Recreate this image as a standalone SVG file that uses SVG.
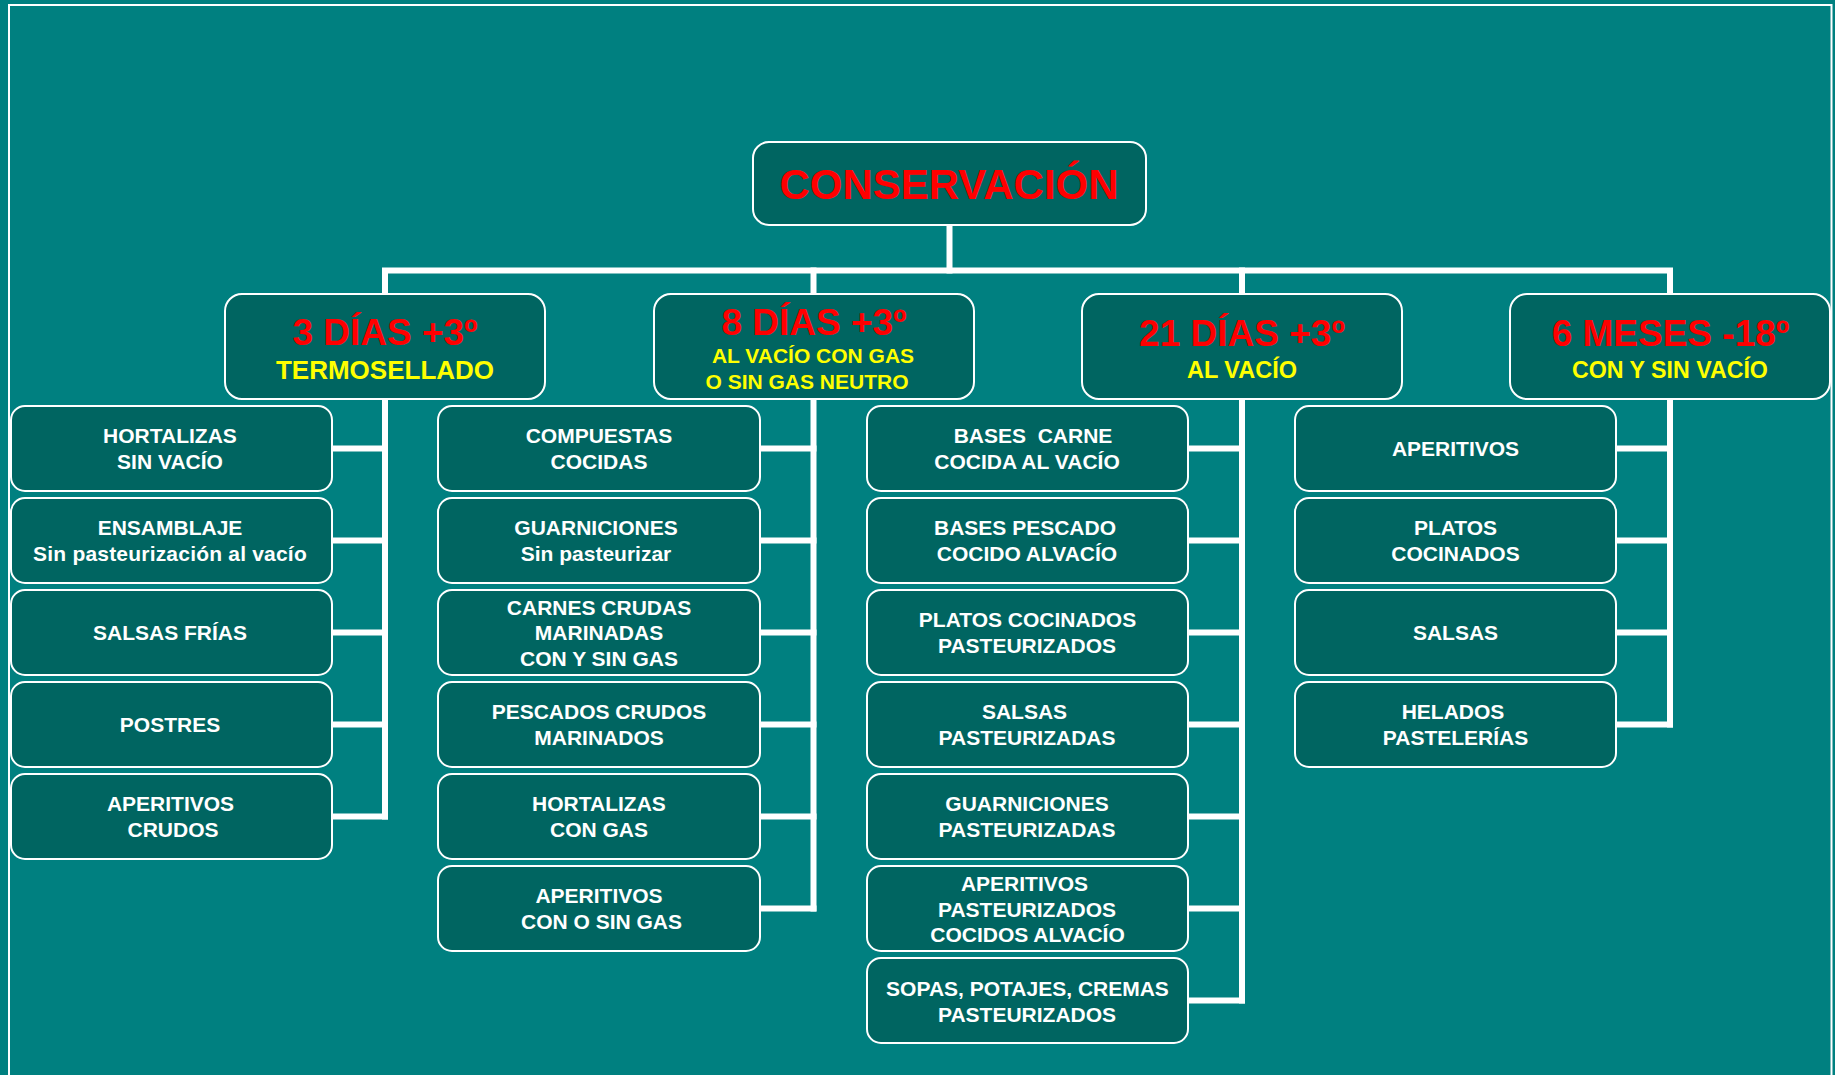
<svg xmlns="http://www.w3.org/2000/svg" width="1835" height="1075" viewBox="0 0 1835 1075">
<style>
.bg{fill:#008080}
.frame{fill:none;stroke:#ffffff;stroke-width:2}
.box{fill:#006561;stroke:#ffffff;stroke-width:2}
.conn{fill:none;stroke:#ffffff;stroke-width:6;stroke-linecap:square;stroke-linejoin:miter}
text{font-family:"Liberation Sans",Arial,sans-serif;font-weight:bold;text-anchor:middle}
.root{fill:#ff0000;font-size:42px}
.hd{fill:#ff0000;font-size:37px}
.sub{fill:#ffff00}
.leaf{fill:#ffffff;font-size:21px}
</style>
<rect class="bg" x="0" y="0" width="1835" height="1075"/>
<rect class="frame" x="9" y="5" width="1822.5" height="1090"/>

<g id="connectors">
<path class="conn" d="M949.5 225 V270.5"/>
<path class="conn" d="M385 294 V270.5 H1670 V294"/>
<path class="conn" d="M813.5 270.5 V294"/>
<path class="conn" d="M1242 270.5 V294"/>
<path class="conn" d="M385 399 V816.5"/>
<path class="conn" d="M332 448.5 H385 M332 540.5 H385 M332 632.5 H385 M332 724.5 H385 M332 816.5 H385"/>
<path class="conn" d="M813.5 399 V908.5"/>
<path class="conn" d="M760 448.5 H813.5 M760 540.5 H813.5 M760 632.5 H813.5 M760 724.5 H813.5 M760 816.5 H813.5 M760 908.5 H813.5"/>
<path class="conn" d="M1242 399 V1000.5"/>
<path class="conn" d="M1188 448.5 H1242 M1188 540.5 H1242 M1188 632.5 H1242 M1188 724.5 H1242 M1188 816.5 H1242 M1188 908.5 H1242 M1188 1000.5 H1242"/>
<path class="conn" d="M1670 399 V724.5"/>
<path class="conn" d="M1616 448.5 H1670 M1616 540.5 H1670 M1616 632.5 H1670 M1616 724.5 H1670"/>
</g>

<g id="root">
<rect class="box" x="753" y="142" width="393" height="83" rx="16"/>
<text class="root" x="949" y="199">CONSERVACIÓN</text>
</g>

<g id="h1">
<rect class="box" x="225" y="294" width="320" height="105" rx="17"/>
<text class="hd" x="385" y="345">3 DÍAS +3º</text>
<text class="sub" x="385" y="378.5" style="font-size:26px">TERMOSELLADO</text>
</g>
<g id="h2">
<rect class="box" x="654" y="294" width="320" height="105" rx="17"/>
<text class="hd" x="814" y="335">8 DÍAS +3º</text>
<text class="sub" x="813" y="363" style="font-size:21px">AL VACÍO CON GAS</text>
<text class="sub" x="807" y="389" style="font-size:21px">O SIN GAS NEUTRO</text>
</g>
<g id="h3">
<rect class="box" x="1082" y="294" width="320" height="105" rx="17"/>
<text class="hd" x="1242" y="345.5">21 DÍAS +3º</text>
<text class="sub" x="1242" y="377.5" style="font-size:23.5px">AL VACÍO</text>
</g>
<g id="h4">
<rect class="box" x="1510" y="294" width="320" height="105" rx="17"/>
<text class="hd" x="1670.5" y="345.5">6 MESES -18º</text>
<text class="sub" x="1670" y="377.5" style="font-size:23.2px">CON Y SIN VACÍO</text>
</g>

<g id="c1n1"><rect class="box" x="11" y="406" width="321" height="85" rx="14"/>
<text class="leaf" x="170" y="443">HORTALIZAS</text><text class="leaf" x="170" y="469">SIN VACÍO</text></g>
<g id="c1n2"><rect class="box" x="11" y="498" width="321" height="85" rx="14"/>
<text class="leaf" x="170" y="535">ENSAMBLAJE</text><text class="leaf" x="170" y="561" style="letter-spacing:0.2px">Sin pasteurización al vacío</text></g>
<g id="c1n3"><rect class="box" x="11" y="590" width="321" height="85" rx="14"/>
<text class="leaf" x="170" y="640">SALSAS FRÍAS</text></g>
<g id="c1n4"><rect class="box" x="11" y="682" width="321" height="85" rx="14"/>
<text class="leaf" x="170" y="732">POSTRES</text></g>
<g id="c1n5"><rect class="box" x="11" y="774" width="321" height="85" rx="14"/>
<text class="leaf" x="170.5" y="811">APERITIVOS</text><text class="leaf" x="173" y="837">CRUDOS</text></g>

<g id="c2n1"><rect class="box" x="438" y="406" width="322" height="85" rx="14"/>
<text class="leaf" x="599" y="443">COMPUESTAS</text><text class="leaf" x="599" y="469">COCIDAS</text></g>
<g id="c2n2"><rect class="box" x="438" y="498" width="322" height="85" rx="14"/>
<text class="leaf" x="596" y="535">GUARNICIONES</text><text class="leaf" x="596" y="561">Sin pasteurizar</text></g>
<g id="c2n3"><rect class="box" x="438" y="590" width="322" height="85" rx="14"/>
<text class="leaf" x="599" y="614.5">CARNES CRUDAS</text><text class="leaf" x="599" y="640.3">MARINADAS</text><text class="leaf" x="599" y="666.1">CON Y SIN GAS</text></g>
<g id="c2n4"><rect class="box" x="438" y="682" width="322" height="85" rx="14"/>
<text class="leaf" x="599" y="719">PESCADOS CRUDOS</text><text class="leaf" x="599" y="745">MARINADOS</text></g>
<g id="c2n5"><rect class="box" x="438" y="774" width="322" height="85" rx="14"/>
<text class="leaf" x="599" y="811">HORTALIZAS</text><text class="leaf" x="599" y="837">CON GAS</text></g>
<g id="c2n6"><rect class="box" x="438" y="866" width="322" height="85" rx="14"/>
<text class="leaf" x="599" y="903">APERITIVOS</text><text class="leaf" x="601.5" y="929">CON O SIN GAS</text></g>

<g id="c3n1"><rect class="box" x="867" y="406" width="321" height="85" rx="14"/>
<text class="leaf" x="1033" y="443" xml:space="preserve">BASES  CARNE</text><text class="leaf" x="1027" y="469">COCIDA AL VACÍO</text></g>
<g id="c3n2"><rect class="box" x="867" y="498" width="321" height="85" rx="14"/>
<text class="leaf" x="1025" y="535">BASES PESCADO</text><text class="leaf" x="1027" y="561">COCIDO ALVACÍO</text></g>
<g id="c3n3"><rect class="box" x="867" y="590" width="321" height="85" rx="14"/>
<text class="leaf" x="1027.5" y="627">PLATOS COCINADOS</text><text class="leaf" x="1027" y="653">PASTEURIZADOS</text></g>
<g id="c3n4"><rect class="box" x="867" y="682" width="321" height="85" rx="14"/>
<text class="leaf" x="1024.5" y="719">SALSAS</text><text class="leaf" x="1027" y="745">PASTEURIZADAS</text></g>
<g id="c3n5"><rect class="box" x="867" y="774" width="321" height="85" rx="14"/>
<text class="leaf" x="1027" y="811">GUARNICIONES</text><text class="leaf" x="1027" y="837">PASTEURIZADAS</text></g>
<g id="c3n6"><rect class="box" x="867" y="866" width="321" height="85" rx="14"/>
<text class="leaf" x="1024.5" y="890.7">APERITIVOS</text><text class="leaf" x="1027" y="916.5">PASTEURIZADOS</text><text class="leaf" x="1027.5" y="942.3">COCIDOS ALVACÍO</text></g>
<g id="c3n7"><rect class="box" x="867" y="958" width="321" height="85" rx="14"/>
<text class="leaf" x="1027.5" y="996">SOPAS, POTAJES, CREMAS</text><text class="leaf" x="1027" y="1022">PASTEURIZADOS</text></g>

<g id="c4n1"><rect class="box" x="1295" y="406" width="321" height="85" rx="14"/>
<text class="leaf" x="1455.5" y="456">APERITIVOS</text></g>
<g id="c4n2"><rect class="box" x="1295" y="498" width="321" height="85" rx="14"/>
<text class="leaf" x="1455.5" y="535">PLATOS</text><text class="leaf" x="1455.5" y="561">COCINADOS</text></g>
<g id="c4n3"><rect class="box" x="1295" y="590" width="321" height="85" rx="14"/>
<text class="leaf" x="1455.5" y="640">SALSAS</text></g>
<g id="c4n4"><rect class="box" x="1295" y="682" width="321" height="85" rx="14"/>
<text class="leaf" x="1453" y="719">HELADOS</text><text class="leaf" x="1455.5" y="745">PASTELERÍAS</text></g>
</svg>
